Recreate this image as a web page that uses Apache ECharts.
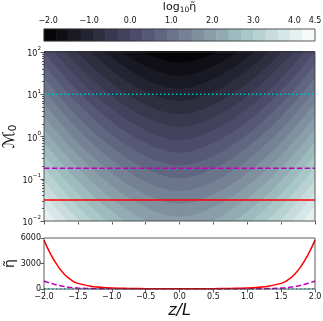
<!DOCTYPE html>
<html>
<head>
<meta charset="utf-8">
<script src="https://cdn.jsdelivr.net/npm/echarts@6/dist/echarts.min.js"></script>
<style>
  html, body { margin: 0; padding: 0; background: #fff; }
  #chart { width: 323px; height: 321px; }
</style>
</head>
<body>
<div id="chart"></div>
<script>
// filled contour levels of log10(eta~)
const levels = [-2.1, -1.8, -1.5, -1.2, -0.9, -0.6, -0.3, 0, 0.3, 0.6, 0.9, 1.2, 1.5, 1.8, 2.1, 2.4, 2.7, 3.0, 3.3, 3.6, 3.9, 4.2, 4.5]
const cbarTicks = [-2, -1, 0, 1, 2, 3, 4, 4.5]

// z/L positions where each contour line was read
const zContour = [-2, -1.75, -1.5, -1.25, -1, -0.75, -0.5, -0.25, 0, 0.25, 0.5, 0.75, 1, 1.25, 1.5, 1.75, 2]
// log10(M0) of the contour line for levels[0..21]
const contourLogM0 = [
  [4.43, 3.95, 3.51, 3.12, 2.78, 2.50, 2.28, 2.12, 2.05, 2.12, 2.28, 2.50, 2.78, 3.12, 3.51, 3.95, 4.43],
  [4.13, 3.64, 3.21, 2.82, 2.48, 2.20, 1.97, 1.82, 1.75, 1.82, 1.97, 2.20, 2.48, 2.82, 3.21, 3.64, 4.13],
  [3.82, 3.34, 2.90, 2.51, 2.18, 1.89, 1.67, 1.51, 1.44, 1.51, 1.67, 1.89, 2.18, 2.51, 2.90, 3.34, 3.82],
  [3.52, 3.04, 2.60, 2.21, 1.87, 1.59, 1.36, 1.21, 1.14, 1.21, 1.36, 1.59, 1.87, 2.21, 2.60, 3.04, 3.52],
  [3.22, 2.73, 2.29, 1.91, 1.57, 1.28, 1.06, 0.91, 0.84, 0.91, 1.06, 1.28, 1.57, 1.91, 2.29, 2.73, 3.22],
  [2.91, 2.43, 1.99, 1.60, 1.26, 0.98, 0.76, 0.60, 0.53, 0.60, 0.76, 0.98, 1.26, 1.60, 1.99, 2.43, 2.91],
  [2.61, 2.12, 1.69, 1.30, 0.96, 0.68, 0.45, 0.30, 0.23, 0.30, 0.45, 0.68, 0.96, 1.30, 1.69, 2.12, 2.61],
  [2.30, 1.82, 1.38, 0.99, 0.66, 0.37, 0.15, -0.01, -0.08, -0.01, 0.15, 0.37, 0.66, 0.99, 1.38, 1.82, 2.30],
  [2.00, 1.52, 1.08, 0.69, 0.35, 0.07, -0.15, -0.31, -0.38, -0.31, -0.15, 0.07, 0.35, 0.69, 1.08, 1.52, 2.00],
  [1.70, 1.21, 0.78, 0.39, 0.05, -0.23, -0.46, -0.61, -0.68, -0.61, -0.46, -0.23, 0.05, 0.39, 0.78, 1.21, 1.70],
  [1.39, 0.91, 0.47, 0.08, -0.25, -0.54, -0.76, -0.92, -0.99, -0.92, -0.76, -0.54, -0.25, 0.08, 0.47, 0.91, 1.39],
  [1.09, 0.61, 0.17, -0.22, -0.56, -0.84, -1.07, -1.22, -1.29, -1.22, -1.07, -0.84, -0.56, -0.22, 0.17, 0.61, 1.09],
  [0.79, 0.30, -0.14, -0.52, -0.86, -1.15, -1.37, -1.53, -1.59, -1.53, -1.37, -1.15, -0.86, -0.52, -0.14, 0.30, 0.79],
  [0.48, 0.00, -0.44, -0.83, -1.17, -1.45, -1.67, -1.83, -1.90, -1.83, -1.67, -1.45, -1.17, -0.83, -0.44, 0.00, 0.48],
  [0.18, -0.31, -0.74, -1.13, -1.47, -1.75, -1.98, -2.13, -2.20, -2.13, -1.98, -1.75, -1.47, -1.13, -0.74, -0.31, 0.18],
  [-0.13, -0.61, -1.05, -1.44, -1.77, -2.06, -2.28, -2.44, -2.51, -2.44, -2.28, -2.06, -1.77, -1.44, -1.05, -0.61, -0.13],
  [-0.43, -0.91, -1.35, -1.74, -2.08, -2.36, -2.58, -2.74, -2.81, -2.74, -2.58, -2.36, -2.08, -1.74, -1.35, -0.91, -0.43],
  [-0.73, -1.22, -1.65, -2.04, -2.38, -2.66, -2.89, -3.04, -3.11, -3.04, -2.89, -2.66, -2.38, -2.04, -1.65, -1.22, -0.73],
  [-1.04, -1.52, -1.96, -2.35, -2.69, -2.97, -3.19, -3.35, -3.42, -3.35, -3.19, -2.97, -2.69, -2.35, -1.96, -1.52, -1.04],
  [-1.34, -1.83, -2.26, -2.65, -2.99, -3.27, -3.50, -3.65, -3.72, -3.65, -3.50, -3.27, -2.99, -2.65, -2.26, -1.83, -1.34],
  [-1.65, -2.13, -2.57, -2.95, -3.29, -3.58, -3.80, -3.96, -4.03, -3.96, -3.80, -3.58, -3.29, -2.95, -2.57, -2.13, -1.65],
  [-1.95, -2.43, -2.87, -3.26, -3.60, -3.88, -4.10, -4.26, -4.33, -4.26, -4.10, -3.88, -3.60, -3.26, -2.87, -2.43, -1.95]
]

// the three M0 cuts: cyan, magenta, red
const cutM0 = [10, 0.178, 0.0316]

// lower panel: eta~ along z/L for those cuts
const zLine = [-2, -1.9, -1.8, -1.7, -1.6, -1.5, -1.25, -1, -0.75, -0.5, -0.25, 0, 0.25, 0.5, 0.75, 1, 1.25, 1.5, 1.6, 1.7, 1.8, 1.9, 2]
const etaRed = [5750, 4070, 2750, 1740, 1070, 660, 263, 125, 63, 40, 28, 25, 28, 40, 63, 125, 263, 660, 1070, 1740, 2750, 4070, 5750]
const etaMagenta = [940, 667, 450, 285, 175, 108, 43, 20, 10, 6.5, 4.6, 4, 4.6, 6.5, 10, 20, 43, 108, 175, 285, 450, 667, 940]
const etaCyan = [19.5, 13.8, 9.3, 5.9, 3.6, 2.2, 0.9, 0.42, 0.21, 0.14, 0.1, 0.08, 0.1, 0.14, 0.21, 0.42, 0.9, 2.2, 3.6, 5.9, 9.3, 13.8, 19.5]

const FONT = 'DejaVu Sans'
const INK = '#111'
const EDGE = '#333'

// matplotlib "bone" colormap
const bone = t => {
  const r = t < 0.746032 ? 0.652778 * t / 0.746032 : 0.652778 + (t - 0.746032) / 0.253968 * 0.347222
  let g
  if (t < 0.365079) g = 0.319444 * t / 0.365079
  else if (t < 0.746032) g = 0.319444 + (t - 0.365079) / 0.380953 * 0.458334
  else g = 0.777778 + (t - 0.746032) / 0.253968 * 0.222222
  const b = t < 0.365079 ? 0.444444 * t / 0.365079 : 0.444444 + (t - 0.365079) / 0.634921 * 0.555556
  const h = v => Math.round(v * 255).toString(16).padStart(2, '0')
  return '#' + h(r) + h(g) + h(b)
}

const nBands = levels.length - 1
const vmin = levels[0]
const vmax = levels[nBands]
const bandColors = levels.slice(0, nBands).map((l, k) => bone(((l + levels[k + 1]) / 2 - vmin) / (vmax - vmin)))

const minus = s => String(s).replace('-', '\u2212')

const minorTicks = []
for (let n = -2; n < 2; n++) {
  for (let k = 2; k <= 9; k++) minorTicks.push(n + Math.log10(k))
}

const tickStyle = { lineStyle: { color: EDGE, width: 0.8 } }
const labelStyle = { color: INK, fontFamily: FONT, fontSize: 8 }
const noLine = { show: false, onZero: false }

const chart = echarts.init(document.getElementById('chart'), null, { renderer: 'canvas' })

const contourSeries = contourLogM0.map((row, k) => ({
  type: 'line',
  xAxisIndex: 2,
  yAxisIndex: 1,
  data: zContour.map((z, i) => [z, row[i]]),
  smooth: true,
  symbol: 'none',
  silent: true,
  clip: true,
  lineStyle: { opacity: 0 },
  areaStyle: { color: bandColors[k], opacity: 1, origin: 'start' }
}))

const cutStyles = [
  { color: '#00bfbf', type: [1.5, 2.5] },
  { color: '#bf00bf', type: [5.5, 2.4] },
  { color: '#ff0000', type: 'solid' }
]

const cutSeries = cutM0.map((m, i) => ({
  type: 'line',
  xAxisIndex: 2,
  yAxisIndex: 3,
  data: [[-2, m], [2, m]],
  symbol: 'none',
  silent: true,
  lineStyle: { color: cutStyles[i].color, type: cutStyles[i].type, width: 1.5 }
}))

const profiles = [etaCyan, etaMagenta, etaRed]
const profileSeries = profiles.map((vals, i) => ({
  type: 'line',
  xAxisIndex: 3,
  yAxisIndex: 4,
  data: zLine.map((z, j) => [z, vals[j]]),
  smooth: true,
  symbol: 'none',
  silent: true,
  lineStyle: { color: cutStyles[i].color, type: cutStyles[i].type, width: 1.5 }
}))

const gridBase = { left: 44, width: 271, show: true, z: 10, backgroundColor: 'transparent', borderColor: EDGE, borderWidth: 0.8, containLabel: false, outerBoundsMode: 'none' }

const option = {
  animation: false,
  backgroundColor: '#fff',
  grid: [
    { ...gridBase, top: 29, height: 12 },
    { ...gridBase, top: 52, height: 169 },
    { ...gridBase, top: 238, height: 51 }
  ],
  visualMap: {
    type: 'piecewise',
    show: false,
    seriesIndex: 0,
    dimension: 2,
    pieces: bandColors.map((c, k) => ({ gte: levels[k], lt: levels[k + 1], color: c }))
  },
  xAxis: [
    { type: 'category', gridIndex: 0, data: bandColors.map((c, k) => k), show: false },
    {
      type: 'value', gridIndex: 0, position: 'top', min: vmin, max: vmax,
      axisLine: noLine,
      axisTick: { customValues: cbarTicks, length: 3.5, ...tickStyle },
      axisLabel: { customValues: cbarTicks, ...labelStyle, margin: 4, formatter: v => minus(v.toFixed(1)) },
      splitLine: { show: false },
      name: '{a|log}{s|10}{a|\u03b7\u0303}',
      nameLocation: 'middle',
      nameGap: 15,
      nameMoveOverlap: false,
      nameTextStyle: {
        rich: {
          a: { fontFamily: FONT, fontSize: 11, color: INK, lineHeight: 13 },
          s: { fontFamily: FONT, fontSize: 7.5, color: INK, lineHeight: 13, verticalAlign: 'bottom' }
        }
      }
    },
    {
      type: 'value', gridIndex: 1, min: -2, max: 2, interval: 0.5,
      axisLine: noLine,
      axisTick: { length: 3.5, ...tickStyle },
      axisLabel: { show: false },
      splitLine: { show: false }
    },
    {
      type: 'value', gridIndex: 2, min: -2, max: 2, interval: 0.5,
      axisLine: noLine,
      axisTick: { length: 3.5, ...tickStyle },
      axisLabel: { ...labelStyle, margin: 4, formatter: v => minus(v.toFixed(1)) },
      splitLine: { show: false },
      name: 'z/L',
      nameLocation: 'middle',
      nameGap: 14,
      nameMoveOverlap: false,
      nameTextStyle: { fontFamily: FONT, fontSize: 16, fontStyle: 'italic', color: INK }
    }
  ],
  yAxis: [
    { type: 'category', gridIndex: 0, data: ['cbar'], show: false },
    {
      type: 'value', gridIndex: 1, min: -2, max: 2, interval: 1,
      axisLine: noLine,
      axisTick: { length: 3.5, ...tickStyle },
      axisLabel: {
        margin: 3,
        formatter: v => '{b|10}{s|' + minus(v) + '}',
        rich: {
          b: { fontFamily: FONT, fontSize: 8, color: INK, lineHeight: 12, verticalAlign: 'bottom' },
          s: { fontFamily: FONT, fontSize: 5.6, color: INK, lineHeight: 12, verticalAlign: 'top' }
        }
      },
      splitLine: { show: false },
      name: '{m|\u2133}{o|0}',
      nameLocation: 'middle',
      nameRotate: 90,
      nameGap: 25,
      nameMoveOverlap: false,
      nameTextStyle: {
        rich: {
          m: { fontFamily: FONT, fontSize: 16, color: INK, lineHeight: 18 },
          o: { fontFamily: FONT, fontSize: 11, color: INK, lineHeight: 18, verticalAlign: 'bottom' }
        }
      }
    },
    {
      type: 'value', gridIndex: 1, min: -2, max: 2, position: 'left', offset: 0,
      axisLine: noLine,
      axisTick: { customValues: minorTicks, length: 2, ...tickStyle },
      axisLabel: { show: false },
      splitLine: { show: false }
    },
    { type: 'log', gridIndex: 1, min: 0.01, max: 100, logBase: 10, show: false },
    {
      type: 'value', gridIndex: 2, min: 0, max: 6000, interval: 3000,
      axisLine: noLine,
      axisTick: { length: 3.5, ...tickStyle },
      axisLabel: { ...labelStyle, margin: 3, formatter: v => String(v) },
      splitLine: { show: false },
      name: '\u03b7\u0303',
      nameLocation: 'middle',
      nameRotate: 90,
      nameGap: 27,
      nameMoveOverlap: false,
      nameTextStyle: { fontFamily: FONT, fontSize: 14, color: INK }
    }
  ],
  series: [
    {
      type: 'heatmap',
      xAxisIndex: 0,
      yAxisIndex: 0,
      silent: true,
      data: bandColors.map((c, k) => [k, 0, (levels[k] + levels[k + 1]) / 2])
    },
    ...contourSeries,
    ...cutSeries,
    ...profileSeries
  ]
}

chart.setOption(option)
window.addEventListener('resize', () => chart.resize())
</script>
</body>
</html>
